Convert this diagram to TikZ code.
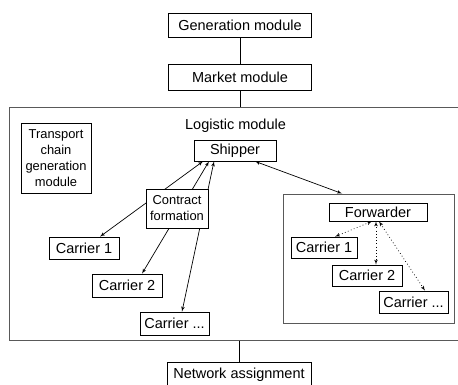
\documentclass[tikz,border=0pt]{standalone}
\usepackage{fontspec}
\setmainfont{Liberation Sans}
\usepackage{tikz}
\usetikzlibrary{arrows}
\usetikzlibrary{positioning}
\tikzstyle{every node}+=[inner sep=0pt]
\tikzstyle{block} = [rectangle, draw, fill=white, font=\fontsize{14.5}{16}\selectfont, text centered, line width=0.7pt]
\tikzstyle{smallblock} = [block, font=\fontsize{12.9}{16}\selectfont]
\tikzstyle{frame} = [rectangle, draw=black!65, line width=1pt]
\tikzstyle{joint} = [draw, line width=0.7pt]
\tikzstyle{line} = [draw, line width=0.7pt, latex'-latex']
\tikzstyle{dotline} = [line, dash pattern=on 0.8pt off 2.4pt]

\begin{document}
\begin{tikzpicture}[x=1pt, y=1pt, node distance=52pt, every text node part/.style={align=center}]
            \useasboundingbox (0,0) rectangle (458,-385);
            % Place nodes
            \node [block, minimum width=143pt, minimum height=24pt] (gen) at (240,-25) {Generation module};
            \node [block, below of=gen, minimum width=143pt, minimum height=26pt] (market) {Market module};
            \node [frame, below of=market, node distance=147pt, xshift=-4.5pt, minimum width=453pt, minimum height=232pt,
                   label={[anchor=north, yshift=-11pt, font=\fontsize{14.5}{16}\selectfont]north:Logistic module}] (logistic) {};
            \node [block, below of=logistic, node distance=151pt, xshift=3.5pt, minimum width=144pt, minimum height=26pt] (net) {Network assignment};
            \node [block, below of=market, node distance=73.5pt, xshift=-5pt, minimum width=82pt, minimum height=21pt] (shipper) {Shipper};
            \node [smallblock, left of=shipper, node distance=179pt, yshift=-7.5pt, minimum width=70pt, minimum height=70pt] (tcg) {Transport\\chain\\generation\\module};
            \node [block, below of=shipper, node distance=97.5pt, xshift=-151pt, minimum width=70pt, minimum height=22pt] (lc1) {Carrier 1};
            \node [block, below of=lc1, node distance=37.5pt, xshift=43pt, minimum width=70pt, minimum height=23pt] (lc2) {Carrier 2};
            \node [block, below of=lc2, node distance=38pt, xshift=47.5pt, minimum width=69pt, minimum height=23pt] (lc3) {Carrier ...};
            \node [frame, below of=shipper, node distance=108pt, xshift=133.5pt, minimum width=171pt, minimum height=129pt] (fbox) {};
            \node [block, above of=fbox, node distance=46.5pt, xshift=9.5pt, minimum width=98pt, minimum height=18pt] (fwd) {Forwarder};
            \node [block, below of=fwd, node distance=35.5pt, xshift=-54pt, minimum width=66pt, minimum height=21pt] (fc1) {Carrier 1};
            \node [block, below of=fc1, node distance=28pt, xshift=43pt, minimum width=70pt, minimum height=21pt] (fc2) {Carrier 2};
            \node [block, below of=fc2, node distance=26.5pt, xshift=46.5pt, minimum width=69pt, minimum height=22pt] (fc3) {Carrier ...};
            % Draw edges
            \path [joint] (gen) -- (market);
            \path [joint] (market.south) -- (market.south |- logistic.north);
            \path [joint] (net.north |- logistic.south) -- (net.north);
            \path [line] ([xshift=16pt]lc1.north) -- ([xshift=-32pt]shipper.south);
            \path [line] ([xshift=15pt]lc2.north) -- ([xshift=-26pt]shipper.south);
            \path [line] ([xshift=7.5pt]lc3.north) -- ([xshift=-21pt]shipper.south);
            \path [line] ([xshift=20pt]shipper.south) -- ([xshift=-26.5pt]fbox.north);
            \path [dotline] ([xshift=-6pt]fwd.south) -- ([xshift=11pt]fc1.north);
            \path [dotline] ([xshift=-2pt]fwd.south) -- ([xshift=9pt]fc2.north);
            \path [dotline] ([xshift=1pt]fwd.south) -- ([xshift=11.5pt]fc3.north);
            % Contract formation sits on top of the carrier links
            \node [smallblock, below of=shipper, node distance=58pt, xshift=-58pt, minimum width=62pt, minimum height=39pt] (contract) {Contract\\formation};
          \end{tikzpicture}
\end{document}
